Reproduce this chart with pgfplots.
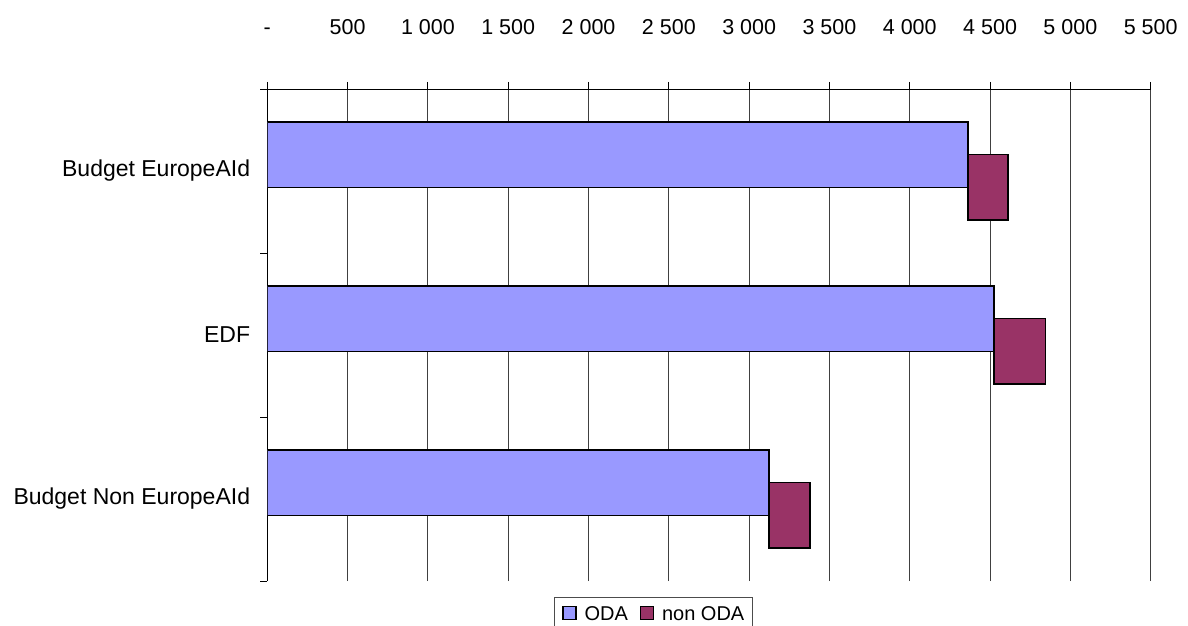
\documentclass[border=0pt]{standalone}
\usepackage{pgfplots}
\pgfplotsset{compat=1.18}
\usepackage{fontspec}
\setmainfont{Liberation Sans}
\definecolor{oda}{HTML}{9999FF}
\definecolor{nonoda}{HTML}{993366}
\begin{document}
\begin{tikzpicture}[x=1pt,y=1pt]
\useasboundingbox (0,0) rectangle (1188,-626);
\begin{axis}[
  at={(267.3pt,-89pt)}, anchor=north west,
  scale only axis, width=883.4pt, height=492pt,
  xmin=0, xmax=5500, ymin=-0.5, ymax=2.5,
  xbar stacked, bar width=65.5pt,
  axis x line*=top, axis y line*=left,
  axis line style={line width=1pt, black},
  xtick={0,500,1000,1500,2000,2500,3000,3500,4000,4500,5000,5500},
  xticklabels={},
  xmajorgrids, grid style={black!75, line width=0.9pt},
  tick align=outside, major tick length=7pt,
  tick style={black, line width=1pt},
  ytick={-0.5,0.5,1.5,2.5}, yticklabels={},
  extra y ticks={0,1,2},
  extra y tick labels={Budget Non EuropeAId, EDF, Budget EuropeAId},
  extra y tick style={major tick length=0pt, tick style={draw=none},
     yticklabel style={font=\fontsize{23}{27}\selectfont, inner sep=0pt, xshift=-17pt}},
  legend columns=2,
  legend style={at={(0.3245,-0.0325)}, anchor=north west, draw=black!70, line width=0.8pt,
     font=\fontsize{20}{24}\selectfont, inner xsep=8pt, inner ysep=6pt,
     nodes={inner sep=0pt, text height=17pt, text depth=2pt},
     /tikz/every odd column/.append style={column sep=8pt},
     /tikz/every even column/.append style={column sep=12pt}},
  legend image code/.code={\draw[#1, line width=1.2pt] (0pt,-6.5pt) rectangle (13pt,6.5pt);},
]
\addplot[fill=oda, draw=black, line width=1.5pt, bar shift=16.5pt] coordinates {(3124,0) (4524,1) (4364,2)};
\addplot[fill=nonoda, draw=black, line width=1.5pt, bar shift=-16pt] coordinates {(255,0) (320,1) (246,2)};
\legend{ODA, non ODA}
\end{axis}
\begin{axis}[
  at={(267.3pt,-35pt)}, anchor=south west,
  scale only axis, width=883.4pt, height=10pt,
  xmin=0, xmax=5500, ymin=0, ymax=1,
  hide y axis, axis x line*=bottom, x axis line style={draw=none},
  xtick={0,500,1000,1500,2000,2500,3000,3500,4000,4500,5000,5500},
  xticklabels={-,500,1 000,1 500,2 000,2 500,3 000,3 500,4 000,4 500,5 000,5 500},
  xtick style={draw=none}, major tick length=0pt, tick align=inside,
  xticklabel style={anchor=base, inner sep=0pt, font=\fontsize{21.5}{25}\selectfont},
]
\addplot[draw=none] coordinates {(0,0)};
\end{axis}
\end{tikzpicture}
\end{document}
